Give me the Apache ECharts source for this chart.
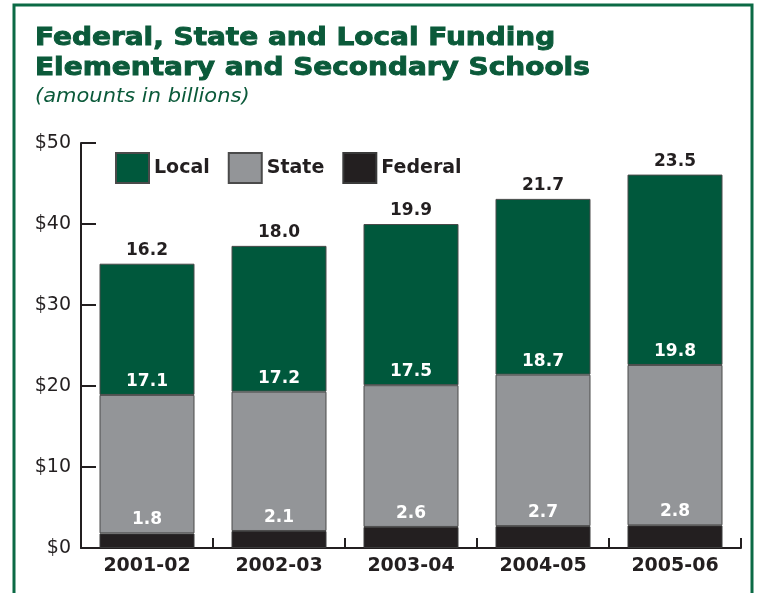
<!DOCTYPE html>
<html><head><meta charset="utf-8">
<script src="https://cdn.jsdelivr.net/npm/echarts@6/dist/echarts.min.js"></script>
<style>html,body{margin:0;padding:0;background:#fff}#c{width:757px;height:593px}</style>
</head><body><div id="c"></div>
<script>
const categories = ['2001-02','2002-03','2003-04','2004-05','2005-06'];
const federal = [1.8, 2.1, 2.6, 2.7, 2.8];
const state = [17.1, 17.2, 17.5, 18.7, 19.8];
const local = [16.2, 18.0, 19.9, 21.7, 23.5];
const yTicks = [0, 10, 20, 30, 40, 50];

const GREEN = '#00583c', GRAY = '#939598', BLACK = '#231f20';
const FONT = 'DejaVu Sans';
const chart = echarts.init(document.getElementById('c'), null, {renderer:'canvas'});
const lbl = (color) => ({show:true, position:'top', distance:5, color:color, fontFamily:FONT, fontWeight:'bold', fontSize:17,
  formatter: p => p.value.toFixed(1)});
chart.setOption({
  animation:false,
  backgroundColor:'#fff',
  graphic:[
    {type:'rect', shape:{x:14, y:5, width:738, height:640}, style:{fill:'none', stroke:'#0b6a45', lineWidth:3}},
    {type:'text', x:35, y:24, scaleX:1.165, style:{text:'Federal, State and Local Funding\nElementary and Secondary Schools', fill:'#0b5a3a', stroke:'#0b5a3a', lineWidth:0.9, font:'bold 24px "DejaVu Sans"', lineHeight:30}},
    {type:'text', x:35, y:87, scaleX:1.05, style:{text:'(amounts in billions)', fill:'#0b5a3a', font:'oblique 20px "DejaVu Sans"'}}
  ],
  legend:{
    left:110, top:147, itemWidth:33, itemHeight:30, itemGap:18, icon:'rect',
    data:['Local','State','Federal'],
    textStyle:{fontFamily:FONT, fontWeight:'bold', fontSize:19, color:BLACK},
    selectedMode:false
  },
  grid:{left:81, right:16, top:143, bottom:45, containLabel:false},
  xAxis:{type:'category', data:categories,
    axisLine:{lineStyle:{color:BLACK, width:2}},
    axisTick:{show:true, inside:true, length:10, lineStyle:{color:BLACK, width:2}},
    axisLabel:{fontFamily:FONT, fontWeight:'bold', fontSize:19, color:BLACK, margin:9}},
  yAxis:{type:'value', min:0, max:50, interval:10,
    axisLine:{show:true, lineStyle:{color:BLACK, width:2}},
    axisTick:{show:true, inside:true, length:15, lineStyle:{color:BLACK, width:2}},
    splitLine:{show:false},
    axisLabel:{fontFamily:FONT, fontSize:19, color:BLACK, margin:10,
      formatter: v => yTicks.includes(v) ? '$' + v : ''}},
  series:[
    {name:'Federal', type:'bar', stack:'t', data:federal, barWidth:95,
      itemStyle:{color:BLACK, borderColor:'#3a3a3a', borderWidth:1}, label:lbl('#ffffff')},
    {name:'State', type:'bar', stack:'t', data:state,
      itemStyle:{color:GRAY, borderColor:'#4a4a4a', borderWidth:1}, label:lbl('#ffffff')},
    {name:'Local', type:'bar', stack:'t', data:local,
      itemStyle:{color:GREEN, borderColor:'#4a4a4a', borderWidth:1}, label:lbl(BLACK)}
  ]
});
</script></body></html>
